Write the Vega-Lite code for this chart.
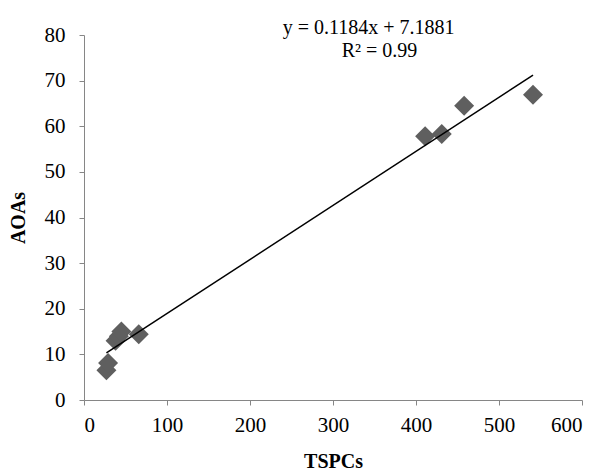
{
  "$schema": "https://vega.github.io/schema/vega-lite/v6.json",
  "width": 498,
  "height": 365,
  "autosize": "none",
  "padding": {"left": 84, "top": 35, "right": 19, "bottom": 70},
  "background": "white",
  "config": {
    "view": {"stroke": null},
    "font": "Liberation Serif",
    "axis": {
      "domainColor": "#868686",
      "tickColor": "#868686",
      "tickSize": 5,
      "grid": false,
      "labelFont": "Liberation Serif",
      "labelFontSize": 21,
      "labelColor": "#000000",
      "titleFont": "Liberation Serif",
      "titleFontSize": 20,
      "titleFontWeight": "bold",
      "titleColor": "#000000"
    }
  },
  "datasets": {
    "points": [
      {"TSPCs": 27, "AOAs": 6.5},
      {"TSPCs": 29, "AOAs": 8.1},
      {"TSPCs": 38, "AOAs": 13},
      {"TSPCs": 42, "AOAs": 14},
      {"TSPCs": 45, "AOAs": 15},
      {"TSPCs": 66, "AOAs": 14.4},
      {"TSPCs": 411, "AOAs": 57.8},
      {"TSPCs": 431, "AOAs": 58.3},
      {"TSPCs": 458, "AOAs": 64.5},
      {"TSPCs": 541, "AOAs": 66.9}
    ],
    "labels": [
      {"x": 343, "y": 80.3, "text": "y = 0.1184x + 7.1881"},
      {"x": 356, "y": 75.2, "text": "R² = 0.99"}
    ]
  },
  "layer": [
    {
      "data": {"name": "points"},
      "mark": {"type": "point", "shape": "diamond", "filled": true, "size": 400, "color": "#5f5f5f", "opacity": 1},
      "encoding": {
        "x": {"field": "TSPCs", "type": "quantitative", "title": "TSPCs", "scale": {"domain": [0, 600]}, "axis": {"values": [0, 100, 200, 300, 400, 500, 600], "labelPadding": 9, "titlePadding": 16}},
        "y": {"field": "AOAs", "type": "quantitative", "title": "AOAs", "scale": {"domain": [0, 80]}, "axis": {"values": [0, 10, 20, 30, 40, 50, 60, 70, 80], "labelPadding": 14, "titlePadding": 16}}
      }
    },
    {
      "data": {"name": "points"},
      "transform": [{"regression": "AOAs", "on": "TSPCs"}],
      "mark": {"type": "line", "color": "#000000", "strokeWidth": 1.5},
      "encoding": {
        "x": {"field": "TSPCs", "type": "quantitative"},
        "y": {"field": "AOAs", "type": "quantitative"}
      }
    },
    {
      "data": {"name": "labels"},
      "mark": {"type": "text", "fontSize": 20, "font": "Liberation Serif", "color": "#000000", "align": "center", "baseline": "alphabetic", "clip": false},
      "encoding": {
        "x": {"field": "x", "type": "quantitative"},
        "y": {"field": "y", "type": "quantitative"},
        "text": {"field": "text"}
      }
    }
  ]
}
